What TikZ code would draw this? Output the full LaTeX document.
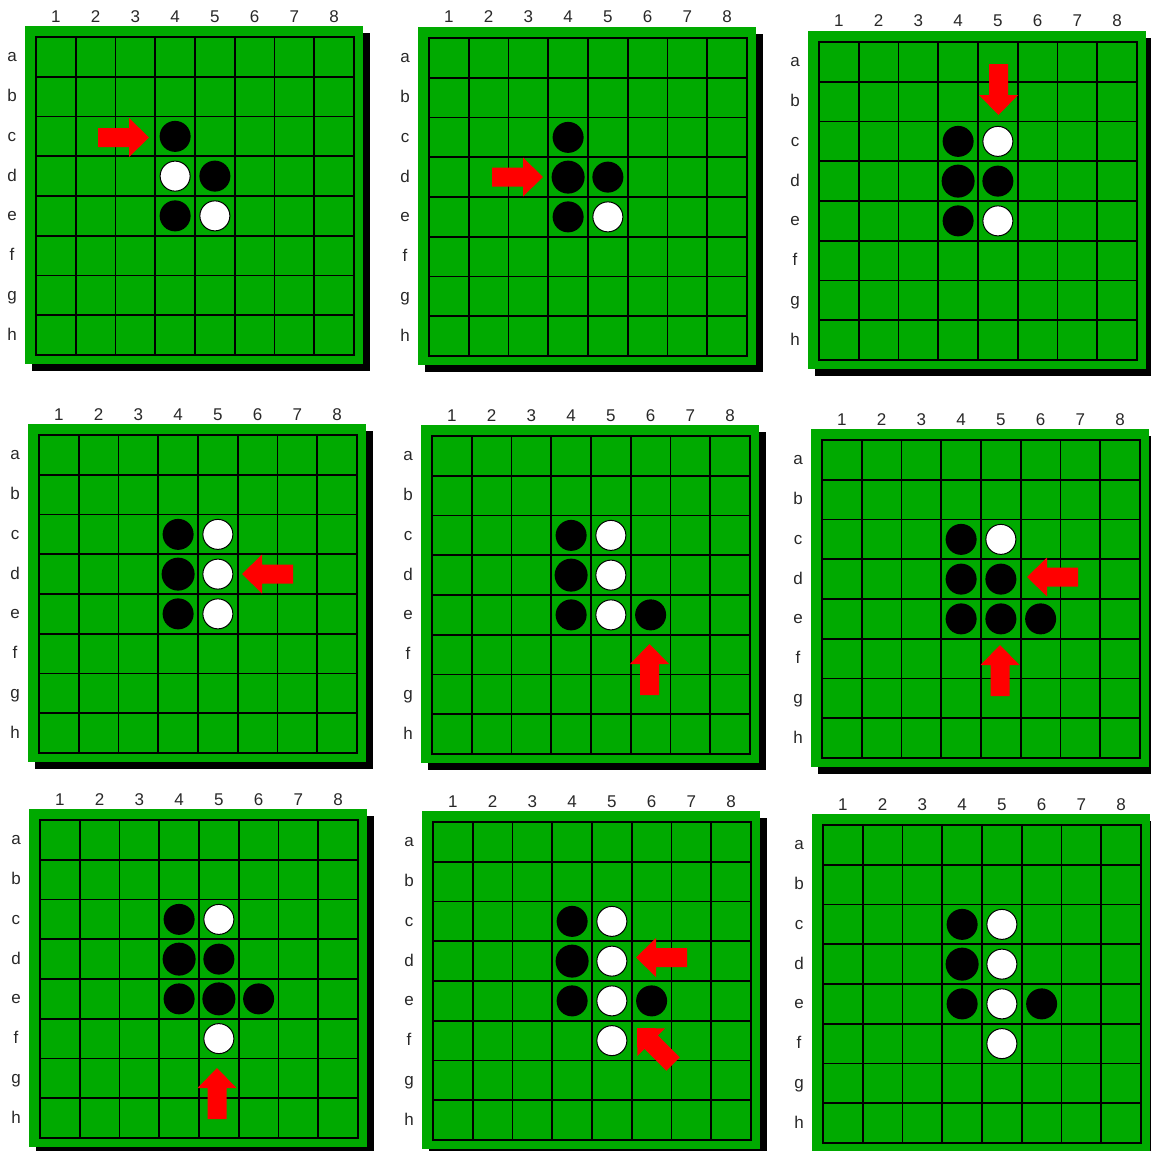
\documentclass[tikz,border=0pt]{standalone}
\usepackage{fontspec}
\setmainfont{Liberation Sans}
\definecolor{othgreen}{RGB}{0,170,0}
\definecolor{othred}{RGB}{255,0,0}
\definecolor{othtext}{RGB}{40,40,40}
\tikzset{
  oth/.style={font=\fontsize{17}{17}\selectfont, text=othtext},
  othlbl/.style={oth, inner sep=0pt, anchor=base},
  othshadow/.style={fill=black},
  othfelt/.style={fill=othgreen},
  othgrid/.style={draw=black, line width=1.8pt, line cap=rect},
  othmove/.style={fill=othred},
  disc black/.style={fill=black, radius=15.5pt},
  disc big/.style={fill=black, radius=16.5pt},
  disc white/.style={fill=white, draw=black, line width=1pt, radius=15pt},
  % one board: shadow, felt, 8x8 grid, labels, discs (row/col/colour)
  board/.pic={
    \fill[othshadow] (7,7) rectangle (345,345);
    \fill[othfelt] (0,0) rectangle (338,338);
    \foreach \i in {0,...,8} {
      \draw[othgrid] ({11+39.75*\i},11) -- ({11+39.75*\i},329);
      \draw[othgrid] (11,{11+39.75*\i}) -- (329,{11+39.75*\i});
    }
    \foreach \c in {1,...,8}
      \node[othlbl] (col\c) at ({11+39.75*(\c-0.5)},-4) {\c};
    \foreach \r [count=\i] in {a,b,c,d,e,f,g,h}
      \node[othlbl] (row\r) at (-13,{11+39.75*(\i-0.5)+5}) {\r};
    \foreach \r/\c/\s in {#1}
      \path[disc \s] ({11+39.75*(\c-0.5)},{11+39.75*(\r-0.5)}) circle;
  },
  movearrow/.pic={
    \fill[othmove] (0,0) -- (-20,19.5) -- (-20,9.5) -- (-51,9.5)
      -- (-51,-9.5) -- (-20,-9.5) -- (-20,-19.5) -- cycle;
  },
}

\begin{document}
\begin{tikzpicture}[x=1pt, y=-1pt]
  \useasboundingbox (0,0) rectangle (1151,1151);

  % top row
  \pic (b1) at (25,26) {board={3/4/black, 4/4/white, 4/5/black, 5/4/black, 5/5/white}};
  \pic (b2) at (418,27) {board={3/4/black, 4/4/big, 4/5/black, 5/4/black, 5/5/white}};
  \pic (b3) at (808,31) {board={3/4/black, 3/5/white, 4/4/big, 4/5/black, 5/4/black, 5/5/white}};

  % middle row
  \pic (b4) at (28,424) {board={3/4/black, 3/5/white, 4/4/big, 4/5/white, 5/4/black, 5/5/white}};
  \pic (b5) at (421,425) {board={3/4/black, 3/5/white, 4/4/big, 4/5/white, 5/4/black, 5/5/white, 5/6/black}};
  \pic (b6) at (811,429) {board={3/4/black, 3/5/white, 4/4/black, 4/5/black, 5/4/black, 5/5/black, 5/6/black}};

  % bottom row
  \pic (b7) at (29,809) {board={3/4/black, 3/5/white, 4/4/big, 4/5/black, 5/4/black, 5/5/big, 5/6/black, 6/5/white}};
  \pic (b8) at (422,811) {board={3/4/black, 3/5/white, 4/4/big, 4/5/white, 5/4/black, 5/5/white, 5/6/black, 6/5/white}};
  \pic (b9) at (812,814) {board={3/4/black, 3/5/white, 4/4/big, 4/5/white, 5/4/black, 5/5/white, 5/6/black, 6/5/white}};

  % red move arrows (tip x / tip y / direction)
  \foreach \x/\y/\a in {149/137.5/0, 543/177/0, 998.5/115/-90,
      242/574/180, 649.5/644/90, 1027/577/180, 1000/645/90,
      217/1068/90, 636/957.5/180, 637/1028/135}
    \pic[rotate=\a] at (\x,\y) {movearrow};
\end{tikzpicture}
\end{document}
